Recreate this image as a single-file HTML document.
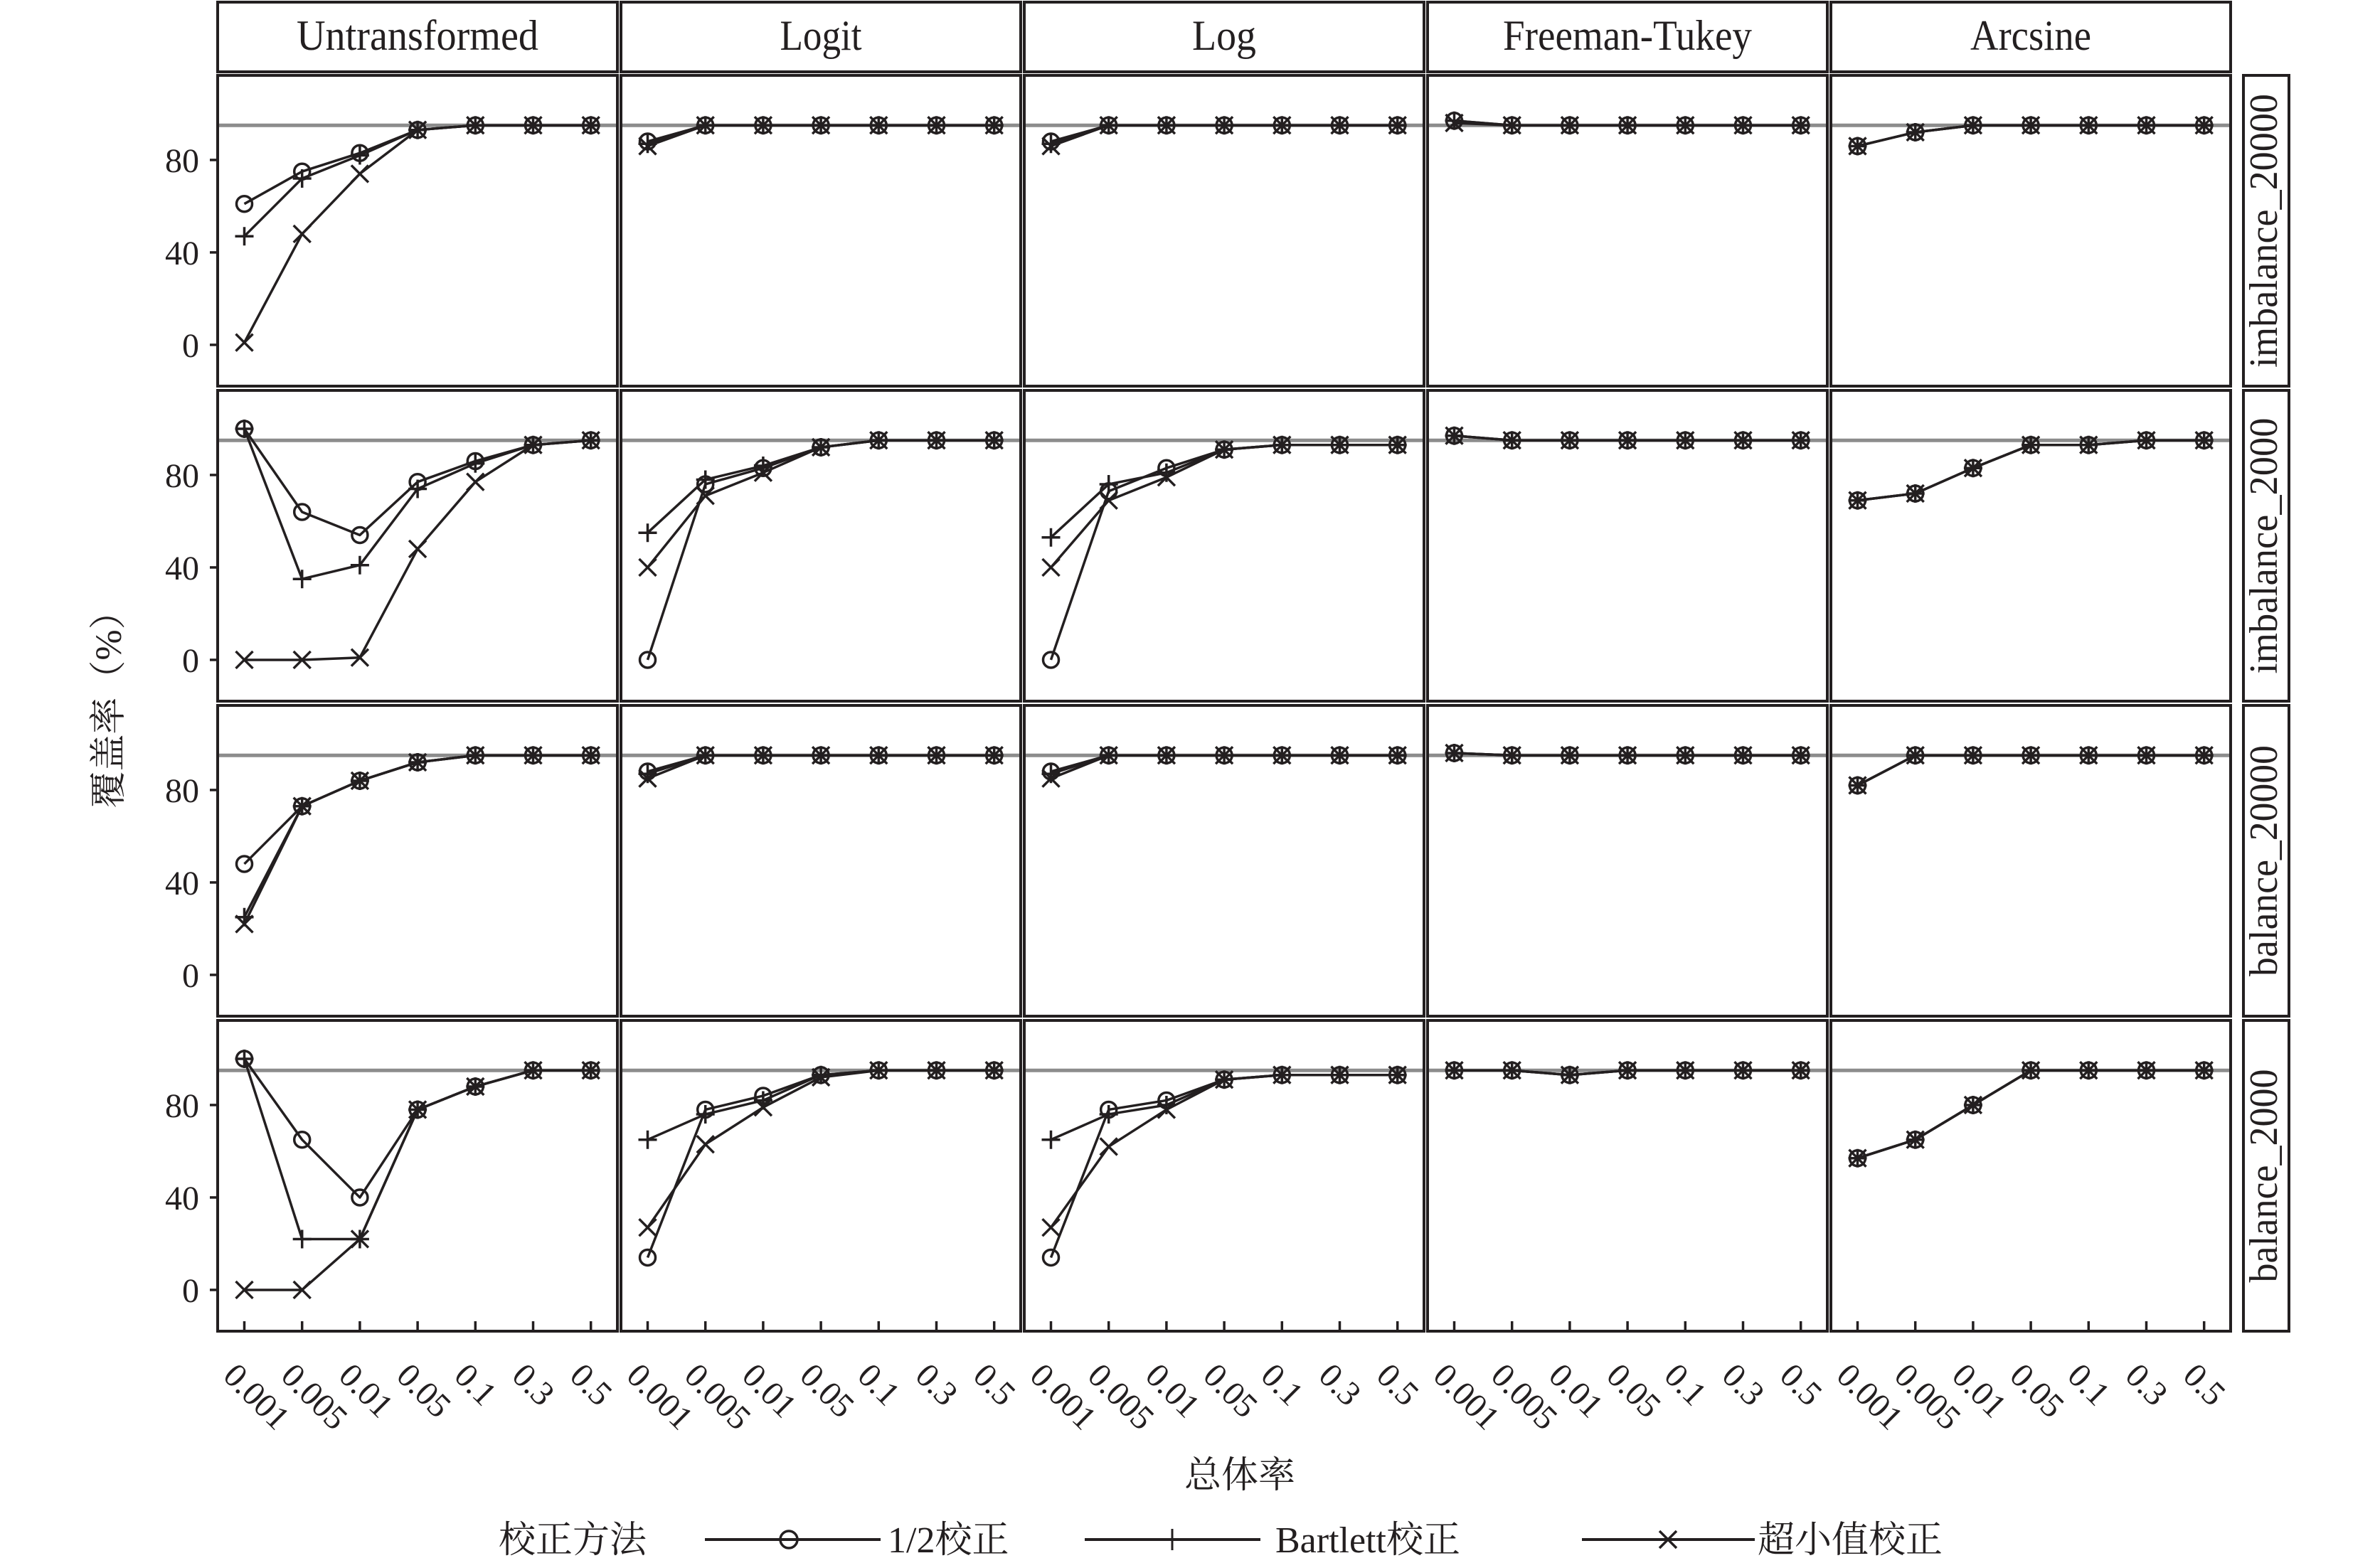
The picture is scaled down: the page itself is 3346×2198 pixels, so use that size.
<!DOCTYPE html>
<html><head><meta charset="utf-8"><style>
html,body{margin:0;padding:0;background:#fff;}
svg{display:block;}
text{font-family:"Liberation Serif","Noto Serif CJK SC",serif;fill:#231f20;}
.cn{font-family:"Liberation Serif","Noto Serif CJK SC",serif;}
</style></head><body>
<svg id="s" width="3346" height="2198" viewBox="0 0 3346 2198" xmlns="http://www.w3.org/2000/svg">
<rect width="3346" height="2198" fill="#fff"/>
<g id="plot"></g>
<g font-size="60" text-anchor="middle">
<text x="587" y="70" textLength="340" lengthAdjust="spacingAndGlyphs">Untransformed</text>
<text x="1154" y="70" textLength="115" lengthAdjust="spacingAndGlyphs">Logit</text>
<text x="1721" y="70" textLength="90" lengthAdjust="spacingAndGlyphs">Log</text>
<text x="2288" y="70" textLength="350" lengthAdjust="spacingAndGlyphs">Freeman-Tukey</text>
<text x="2855" y="70" textLength="170" lengthAdjust="spacingAndGlyphs">Arcsine</text>
</g>
<g font-size="56" text-anchor="middle">
<text transform="translate(3201,324.5) rotate(-90)" textLength="385" lengthAdjust="spacingAndGlyphs">imbalance_20000</text>
<text transform="translate(3201,767.5) rotate(-90)" textLength="360" lengthAdjust="spacingAndGlyphs">imbalance_2000</text>
<text transform="translate(3201,1210.5) rotate(-90)" textLength="325" lengthAdjust="spacingAndGlyphs">balance_20000</text>
<text transform="translate(3201,1653.5) rotate(-90)" textLength="300" lengthAdjust="spacingAndGlyphs">balance_2000</text>
</g>
<g font-size="48" text-anchor="end">
<text x="280" y="242">80</text><text x="280" y="372">40</text><text x="280" y="502">0</text>
<text x="280" y="685">80</text><text x="280" y="815">40</text><text x="280" y="945">0</text>
<text x="280" y="1128">80</text><text x="280" y="1258">40</text><text x="280" y="1388">0</text>
<text x="280" y="1571">80</text><text x="280" y="1701">40</text><text x="280" y="1831">0</text>
</g>
<g font-size="48">
<g transform="translate(306,0)">
<text transform="translate(5.5,1937) rotate(45)">0.001</text><text transform="translate(86.7,1937) rotate(45)">0.005</text><text transform="translate(167.9,1937) rotate(45)">0.01</text><text transform="translate(249.1,1937) rotate(45)">0.05</text><text transform="translate(330.3,1937) rotate(45)">0.1</text><text transform="translate(411.5,1937) rotate(45)">0.3</text><text transform="translate(492.7,1937) rotate(45)">0.5</text>
</g>
<g transform="translate(873,0)">
<text transform="translate(5.5,1937) rotate(45)">0.001</text><text transform="translate(86.7,1937) rotate(45)">0.005</text><text transform="translate(167.9,1937) rotate(45)">0.01</text><text transform="translate(249.1,1937) rotate(45)">0.05</text><text transform="translate(330.3,1937) rotate(45)">0.1</text><text transform="translate(411.5,1937) rotate(45)">0.3</text><text transform="translate(492.7,1937) rotate(45)">0.5</text>
</g>
<g transform="translate(1440,0)">
<text transform="translate(5.5,1937) rotate(45)">0.001</text><text transform="translate(86.7,1937) rotate(45)">0.005</text><text transform="translate(167.9,1937) rotate(45)">0.01</text><text transform="translate(249.1,1937) rotate(45)">0.05</text><text transform="translate(330.3,1937) rotate(45)">0.1</text><text transform="translate(411.5,1937) rotate(45)">0.3</text><text transform="translate(492.7,1937) rotate(45)">0.5</text>
</g>
<g transform="translate(2007,0)">
<text transform="translate(5.5,1937) rotate(45)">0.001</text><text transform="translate(86.7,1937) rotate(45)">0.005</text><text transform="translate(167.9,1937) rotate(45)">0.01</text><text transform="translate(249.1,1937) rotate(45)">0.05</text><text transform="translate(330.3,1937) rotate(45)">0.1</text><text transform="translate(411.5,1937) rotate(45)">0.3</text><text transform="translate(492.7,1937) rotate(45)">0.5</text>
</g>
<g transform="translate(2574,0)">
<text transform="translate(5.5,1937) rotate(45)">0.001</text><text transform="translate(86.7,1937) rotate(45)">0.005</text><text transform="translate(167.9,1937) rotate(45)">0.01</text><text transform="translate(249.1,1937) rotate(45)">0.05</text><text transform="translate(330.3,1937) rotate(45)">0.1</text><text transform="translate(411.5,1937) rotate(45)">0.3</text><text transform="translate(492.7,1937) rotate(45)">0.5</text>
</g>
</g>
<text class="cn" x="1743" y="2092" font-size="52" text-anchor="middle">总体率</text>
<text class="cn" transform="translate(170,985) rotate(-90)" font-size="52" text-anchor="middle">覆盖率（%）</text>
<g font-size="52">
<text class="cn" x="701" y="2183">校正方法</text>
<line x1="991" y1="2165" x2="1238" y2="2165" stroke="#231f20" stroke-width="4"/>
<circle cx="1109" cy="2165" r="12" fill="none" stroke="#231f20" stroke-width="3.5"/>
<text class="cn" x="1248" y="2183">1/2校正</text>
<line x1="1525" y1="2165" x2="1772" y2="2165" stroke="#231f20" stroke-width="4"/>
<line x1="1648" y1="2150" x2="1648" y2="2180" stroke="#231f20" stroke-width="3"/>
<text class="cn" x="1793" y="2183">Bartlett校正</text>
<line x1="2224" y1="2165" x2="2467" y2="2165" stroke="#231f20" stroke-width="4"/>
<path d="M2333,2153 L2357,2177 M2357,2153 L2333,2177" stroke="#231f20" stroke-width="3.5"/>
<text class="cn" x="2471" y="2183">超小值校正</text>
</g>
</svg>
<script>
(function(){
var NS="http://www.w3.org/2000/svg";
var g=document.getElementById("plot");
function el(t,a){var e=document.createElementNS(NS,t);for(var k in a)e.setAttribute(k,a[k]);g.appendChild(e);return e;}
var C="#231f20";
var rowTop=[106,549,992,1435], H=437, W=562;
var colL=[306,873,1440,2007,2574];
var D=[
 [ [[61,75,83,93,95,95,95],[47,72,82,93,95,95,95],[1,48,74,93,95,95,95]],
   [[88,95,95,95,95,95,95],[87,95,95,95,95,95,95],[86,95,95,95,95,95,95]],
   [[88,95,95,95,95,95,95],[87,95,95,95,95,95,95],[86,95,95,95,95,95,95]],
   [[97,95,95,95,95,95,95],[97,95,95,95,95,95,95],[96,95,95,95,95,95,95]],
   [[86,92,95,95,95,95,95],[86,92,95,95,95,95,95],[86,92,95,95,95,95,95]] ],
 [ [[100,64,54,77,86,93,95],[100,35,41,74,85,93,95],[0,0,1,48,77,93,95]],
   [[0,76,83,92,95,95,95],[55,78,84,92,95,95,95],[40,71,81,92,95,95,95]],
   [[0,73,83,91,93,93,93],[53,76,81,91,93,93,93],[40,69,79,91,93,93,93]],
   [[97,95,95,95,95,95,95],[97,95,95,95,95,95,95],[97,95,95,95,95,95,95]],
   [[69,72,83,93,93,95,95],[69,72,83,93,93,95,95],[69,72,83,93,93,95,95]] ],
 [ [[48,73,84,92,95,95,95],[25,73,84,92,95,95,95],[22,73,84,92,95,95,95]],
   [[88,95,95,95,95,95,95],[87,95,95,95,95,95,95],[85,95,95,95,95,95,95]],
   [[88,95,95,95,95,95,95],[87,95,95,95,95,95,95],[85,95,95,95,95,95,95]],
   [[96,95,95,95,95,95,95],[96,95,95,95,95,95,95],[96,95,95,95,95,95,95]],
   [[82,95,95,95,95,95,95],[82,95,95,95,95,95,95],[82,95,95,95,95,95,95]] ],
 [ [[100,65,40,78,88,95,95],[100,22,22,78,88,95,95],[0,0,22,78,88,95,95]],
   [[14,78,84,93,95,95,95],[65,76,82,93,95,95,95],[27,63,79,92,95,95,95]],
   [[14,78,82,91,93,93,93],[65,76,80,91,93,93,93],[27,62,78,91,93,93,93]],
   [[95,95,93,95,95,95,95],[95,95,93,95,95,95,95],[95,95,93,95,95,95,95]],
   [[57,65,80,95,95,95,95],[57,65,80,95,95,95,95],[57,65,80,95,95,95,95]] ]
];
function Y(r,v){return rowTop[r]+(116.6-v)*3.25;}
function X(c,i){return colL[c]+37.5+i*81.2;}
for(var c=0;c<5;c++) el("rect",{x:colL[c],y:3,width:W,height:98,fill:"none",stroke:C,"stroke-width":4});
for(var r=0;r<4;r++) el("rect",{x:3154,y:rowTop[r],width:64,height:H,fill:"none",stroke:C,"stroke-width":4});
for(var r=0;r<4;r++){
 for(var c=0;c<5;c++){
  var L=colL[c],T=rowTop[r];
  el("line",{x1:L,x2:L+W,y1:Y(r,95),y2:Y(r,95),stroke:"#8c8c8c","stroke-width":5});
  for(var s=0;s<3;s++){
   var d=D[r][c][s],pts=[];
   for(var i=0;i<7;i++)pts.push(X(c,i)+","+Y(r,d[i]));
   el("polyline",{points:pts.join(" "),fill:"none",stroke:C,"stroke-width":3.5,"stroke-linejoin":"round"});
   for(var i=0;i<7;i++){
    var x=X(c,i),y=Y(r,d[i]);
    if(s==0) el("circle",{cx:x,cy:y,r:11,fill:"none",stroke:C,"stroke-width":3.5});
    else if(s==1) el("path",{d:"M"+(x-13)+","+y+"h26M"+x+","+(y-13)+"v26",stroke:C,"stroke-width":3.5});
    else el("path",{d:"M"+(x-12)+","+(y-12)+"l24,24M"+(x+12)+","+(y-12)+"l-24,24",stroke:C,"stroke-width":3.5});
   }
  }
  el("rect",{x:L,y:T,width:W,height:H,fill:"none",stroke:C,"stroke-width":4});
  if(c==0){ [0,40,80].forEach(function(v){el("line",{x1:L-11,x2:L,y1:Y(r,v),y2:Y(r,v),stroke:C,"stroke-width":3.5});}); }
  if(r==3){ for(var i=0;i<7;i++) el("line",{x1:X(c,i),x2:X(c,i),y1:T+H,y2:T+H-14,stroke:C,"stroke-width":3.5}); }
 }
}
})();
</script>
</body></html>
